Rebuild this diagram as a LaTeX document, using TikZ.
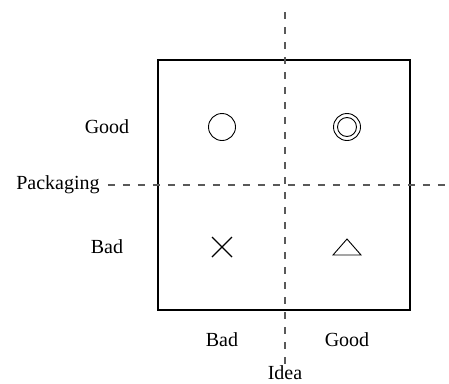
\documentclass[tikz,border=0pt]{standalone}
\usepackage{fontspec}
\setmainfont{Liberation Serif}
\begin{document}
\begin{tikzpicture}[x=1pt,y=-1pt,
  lbl/.style={font=\fontsize{20}{24}\selectfont, inner sep=0pt},
  dashln/.style={draw=black!65, line width=1.4pt, dash pattern=on 7pt off 8pt},
  sym/.style={line width=0.9pt}]
\useasboundingbox (0,0) rectangle (449,383);
\draw[line width=1.1pt] (158,60) rectangle (410,310);
\node[lbl] (pk) at (58,185) {Packaging};
\node[lbl] (gl) at (107,127) {Good};
\node[lbl] (bl) at (107,247) {Bad};
\node[lbl] (bb) at (222,340) {Bad};
\node[lbl] (gb) at (347,340) {Good};
\node[lbl] (id) at (285,373) {Idea};
\coordinate (vt) at (285,12);
\coordinate (hr) at (449,185);
\draw[dashln] (vt) -- ([yshift=-3pt]id.north);
\draw[dashln] (pk.east) ++(8,0) -- (hr);
\node[sym, draw, circle, minimum size=27pt, inner sep=0pt] (c1) at (222,127) {};
\node[sym, draw, circle, minimum size=27pt, inner sep=0pt] (c2) at (347,127) {};
\node[sym, draw, circle, minimum size=19pt, inner sep=0pt] (c3) at (347,127) {};
\draw[sym, line width=1.2pt] (212,237) -- (232,257) (212,257) -- (232,237);
\draw[sym] (333,255) -- (361,255) -- (347,239) -- cycle;
\end{tikzpicture}
\end{document}
